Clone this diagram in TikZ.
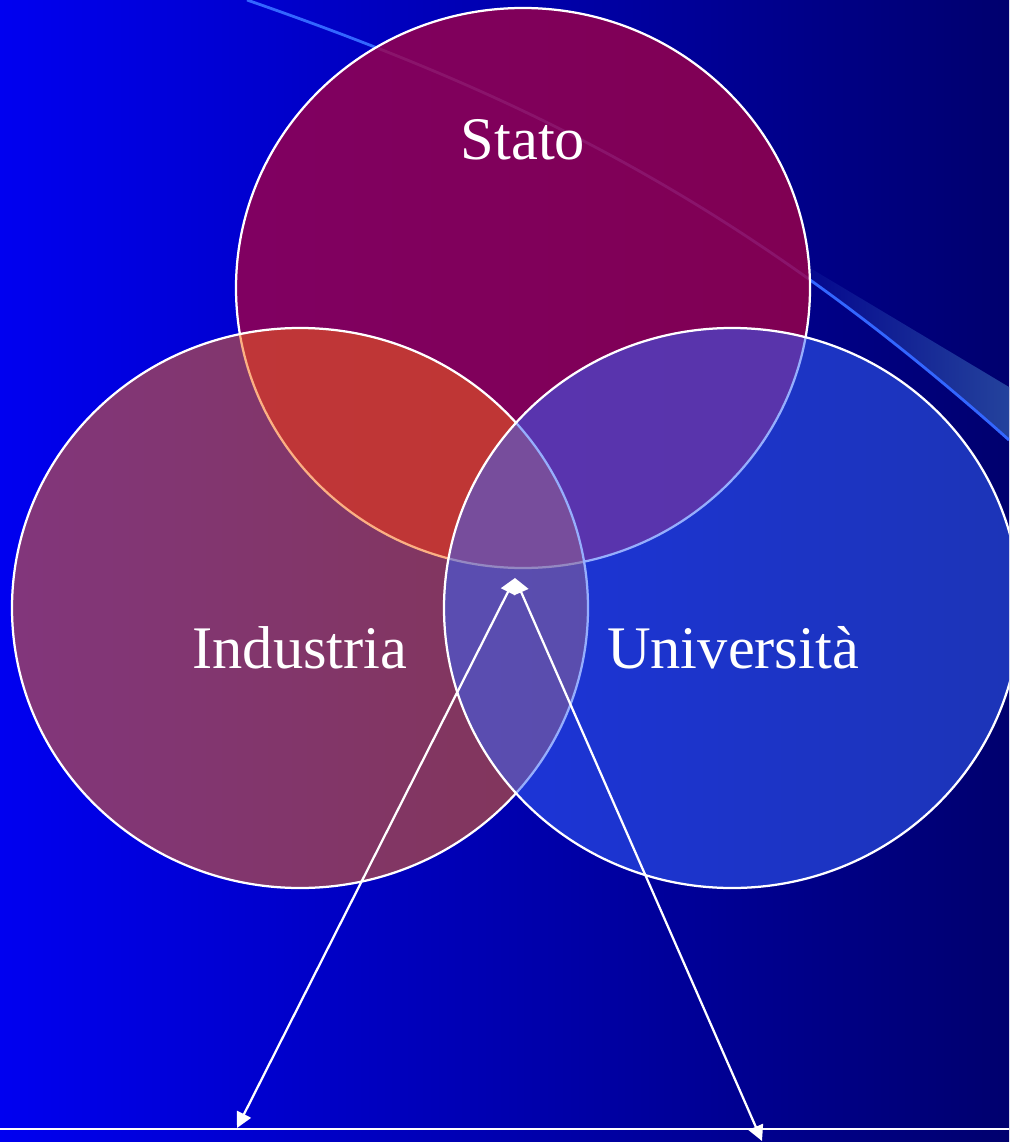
\documentclass[tikz,border=0pt]{standalone}
\usepackage{fontspec}
\setmainfont{Liberation Serif}
\usetikzlibrary{arrows.meta}

\definecolor{bgLeft}{RGB}{0,0,240}
\definecolor{bgMid}{RGB}{0,0,192}
\definecolor{bgRight}{RGB}{0,0,110}
\definecolor{swooshLine}{RGB}{51,102,255}
\definecolor{wedgeLeft}{RGB}{0,0,140}
\definecolor{wedgeRight}{RGB}{36,66,156}
\definecolor{statoFill}{RGB}{160,0,70}
\definecolor{industriaFill}{RGB}{250,104,19}
\definecolor{universitaFill}{RGB}{54,100,252}

\begin{document}
\begin{tikzpicture}
			[x=0.025cm,y=-0.025cm,every node/.style={text=white,font=\fontsize{43}{52}\selectfont},
			set/.style={draw=white,line width=1.6pt}, edge/.style={<->,>={Triangle[length=11pt,width=11pt]},draw=white,line width=1.6pt}]
			\useasboundingbox (0,0) rectangle (1009,1142);
			\clip (0,0) rectangle (1009,1142);
			\fill[left color=bgLeft,middle color=bgMid,right color=bgRight] (0,0) rectangle (1009,1142);
			
			% swoosh
			\begin{scope}
			\clip (247,0) .. controls (520,95) and (740,200) .. (1009,440) -- (1040,440) -- (1040,0) -- cycle;
			\shade[left color=wedgeLeft,right color=wedgeRight] (780,250) -- (1009,387) -- (1009,600) -- (780,600) -- cycle;
			\end{scope}
			\draw[swooshLine,line width=2pt] (247,0) .. controls (520,95) and (740,200) .. (1009,440);
			
			% sets
			\fill[statoFill,fill opacity=0.8] (523,288) ellipse (287 and 280);
			\draw[set] (523,288) ellipse (287 and 280);
			\fill[industriaFill,fill opacity=0.52] (300,608) ellipse (288 and 280);
			\draw[set] (300,608) ellipse (288 and 280);
			\fill[universitaFill,fill opacity=0.52] (732,608) ellipse (288 and 280);
			\draw[set] (732,608) ellipse (288 and 280);
			
			\node[anchor=base] (stato) at (523,160) {Stato};
			\node[anchor=base] (industria) at (300,668) {Industria};
			\node[anchor=base] (universita) at (733,668) {Università};
			
			\coordinate (apex) at (515,578);
			\coordinate (leftFoot) at (237,1128);
			\coordinate (rightFoot) at (762,1141);
			\coordinate (baseL) at (0,1129);
			\coordinate (baseR) at (1009,1129);
			
			\draw[edge] (apex) -- (leftFoot);
			\draw[edge] (apex) -- (rightFoot);
			\draw[white,line width=1.6pt] (baseL) -- (baseR);
			
			\end{tikzpicture}
\end{document}
